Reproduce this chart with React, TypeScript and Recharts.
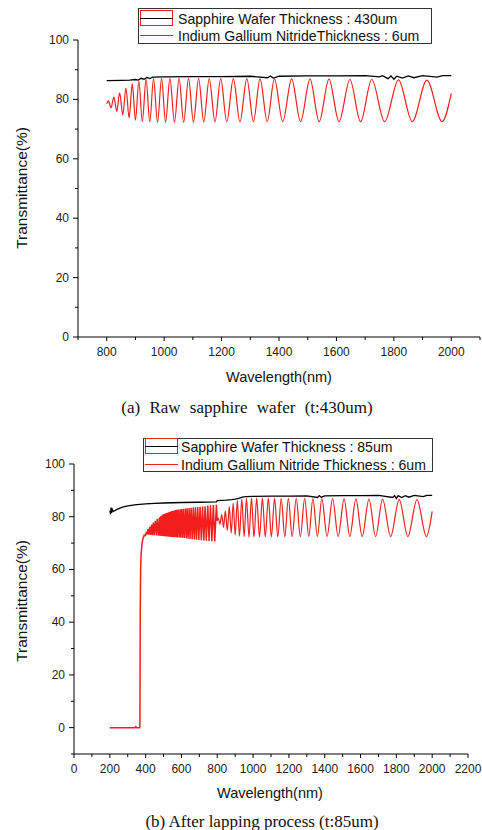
import React from "react";
import { LineChart, Line, XAxis, YAxis } from "recharts";

// thin-film fringes 800-2000 nm (same InGaN layer in both panels)
const fringeNm = [
  800, 806, 815, 825, 835, 845, 856, 867, 878, 889, 900, 912, 924, 937, 950, 963, 977, 991,
  1005, 1020, 1036, 1052, 1068, 1085, 1102, 1120, 1138, 1157, 1177, 1197, 1218, 1241, 1264,
  1288, 1311, 1334, 1359, 1384, 1413, 1444, 1475, 1508, 1540, 1574, 1609, 1647, 1684, 1723,
  1768, 1816, 1864, 1915, 1968, 2000,
];
const fringeT = [
  78.5, 79.5, 77.2, 80.8, 76.0, 82.2, 74.8, 83.8, 73.8, 85.2, 73.0, 86.2, 72.6, 86.8, 72.4, 87.0,
  72.3, 87.1, 72.3, 87.1, 72.3, 87.1, 72.3, 87.1, 72.3, 87.1, 72.4, 87.0, 72.4, 87.0, 72.4, 87.0,
  72.4, 87.0, 72.5, 86.9, 72.5, 86.9, 72.5, 86.9, 72.5, 86.8, 72.5, 86.8, 72.5, 86.7, 72.5, 86.7,
  72.5, 86.6, 72.5, 86.5, 72.5, 82.0,
];

// (a) sapphire 430um
const sapphireANm = [
  800, 850, 880, 900, 910, 920, 930, 940, 950, 960, 1000, 1100, 1200, 1300, 1360, 1370, 1380,
  1400, 1500, 1600, 1700, 1750, 1760, 1780, 1790, 1800, 1810, 1830, 1850, 1870, 1900, 1950,
  1970, 2000,
];
const sapphireAT = [
  86.3, 86.4, 86.5, 86.7, 86.5, 87.1, 86.8, 87.4, 87.0, 87.5, 87.6, 87.7, 87.7, 87.8, 87.3, 87.9,
  87.2, 87.8, 87.9, 87.9, 88.0, 87.6, 88.0, 87.0, 87.9, 86.8, 87.8, 87.2, 87.9, 87.3, 88.0, 87.5,
  88.0, 88.0,
];

// (b) sapphire 85um
const sapphireBNm = [
  200, 204, 207, 210, 214, 220, 240, 270, 300, 350, 400, 450, 500, 600, 700, 795,
  800, 850, 880, 900, 920, 940, 960, 1000, 1100, 1200, 1300, 1360, 1370, 1380, 1400, 1500,
  1600, 1700, 1780, 1790, 1800, 1810, 1830, 1850, 1870, 1900, 1950, 1970, 2000,
];
const sapphireBT = [
  82.3, 81.0, 83.5, 81.5, 82.8, 82.0, 82.8, 83.6, 84.1, 84.6, 84.9, 85.1, 85.2, 85.4, 85.5, 85.6,
  86.1, 86.3, 86.5, 86.7, 87.0, 87.4, 87.6, 87.7, 87.8, 87.8, 87.9, 87.3, 88.0, 87.4, 87.9, 88.0,
  88.0, 88.1, 87.3, 88.0, 86.9, 88.0, 87.3, 88.0, 87.4, 88.1, 87.6, 88.1, 88.1,
];

// (b) InGaN: absorption edge + dense fringes below 800 nm
const edgeNm = [
  200, 340, 345, 350, 366, 368, 369, 370, 372, 375, 380, 386, 392,
  396, 400, 404, 408, 413, 418, 423, 428, 433, 438, 443, 448, 454, 460, 465, 471, 477, 480,
  484, 487, 490, 493, 497, 500, 503, 506, 510, 513, 517, 521, 525, 528, 532, 536, 540, 544,
  548, 552, 556, 560, 565, 569, 573, 577, 582, 587, 592, 596, 601, 606, 611, 616, 622, 627,
  632, 637, 643, 648, 654, 660, 666, 672, 678, 684, 691, 697, 704, 711, 718, 725, 732, 739,
  747, 754, 762, 770, 778, 786, 795, 800,
];
const edgeT = [
  0, 0, 0.4, 0, 0, 0.5, 20, 45, 60, 66, 70, 72, 73,
  72.8, 73.0, 74.2, 73.2, 75.3, 73.2, 76.2, 73.1, 77.0, 73.0, 77.8, 73.0, 78.5, 72.9, 79.2, 72.8,
  79.8, 72.8, 80.2, 72.7, 80.5, 72.7, 80.8, 72.6, 81.0, 72.6, 81.2, 72.5, 81.4, 72.5, 81.6, 72.4,
  81.8, 72.4, 82.0, 72.3, 82.2, 72.3, 82.3, 72.2, 82.5, 72.2, 82.6, 72.1, 82.7, 72.1, 82.8, 72.0,
  82.9, 72.0, 83.0, 71.9, 83.1, 71.8, 83.2, 71.7, 83.3, 71.6, 83.4, 71.5, 83.5, 71.4, 83.6, 71.3,
  83.7, 71.2, 83.8, 71.1, 83.9, 71.0, 84.0, 70.9, 84.2, 70.8, 84.3, 70.7, 84.4, 70.6, 84.5, 78.5,
];

const xTicksA = [700, 800, 900, 1000, 1100, 1200, 1300, 1400, 1500, 1600, 1700, 1800, 1900, 2000, 2100];
const xTicksB = [0, 100, 200, 300, 400, 500, 600, 700, 800, 900, 1000, 1100, 1200, 1300, 1400, 1500, 1600, 1700, 1800, 1900, 2000, 2100, 2200];
const yTicksA = [0, 10, 20, 30, 40, 50, 60, 70, 80, 90, 100];
const yTicksB = [-10, 0, 10, 20, 30, 40, 50, 60, 70, 80, 90, 100];

const legendA = ["Sapphire Wafer Thickness : 430um", "Indium Gallium NitrideThickness : 6um"];
const legendB = ["Sapphire Wafer Thickness : 85um", "Indium Gallium Nitride Thickness : 6um"];

const RED = "#f21d1d";
const SANS = '"Liberation Sans", Arial, sans-serif';
const SERIF = '"Liberation Serif", "Times New Roman", serif';

const zip = (xs: number[], ys: number[]) => xs.map((x, i) => ({ x, y: ys[i] }));

const XTick = ({ x, y, payload }: any) => {
  const major = payload.value % 200 === 0;
  return (
    <g>
      <line x1={x} y1={y} x2={x} y2={y + (major ? 4 : 3)} stroke="#000" />
      {major && (
        <text x={x} y={y + 15} textAnchor="middle" dominantBaseline="central" fontSize={12} fontFamily={SANS} fill="#222">
          {payload.value}
        </text>
      )}
    </g>
  );
};

const YTick = ({ x, y, payload }: any) => {
  const major = payload.value % 20 === 0;
  return (
    <g>
      <line x1={x} y1={y} x2={x - (major ? 5 : 3)} y2={y} stroke="#000" />
      {major && (
        <text x={x - 9} y={y} textAnchor="end" dominantBaseline="central" fontSize={12} fontFamily={SANS} fill="#222">
          {payload.value}
        </text>
      )}
    </g>
  );
};

function LegendBox({ left, top, width, height, rows, labels, textLeft }: any) {
  return (
    <div style={{ position: "absolute", left, top, width, height, border: "1px solid #333", boxSizing: "border-box", background: "#fff" }}>
      <div style={{ position: "absolute", left: 1, top: rows[0] - 9, width: 33, height: 16, border: `1px solid ${RED}`, boxSizing: "border-box" }} />
      <div style={{ position: "absolute", left: 1, top: rows[0] - 1, width: 33, height: 0, borderTop: "1.5px solid #000" }} />
      <div style={{ position: "absolute", left: 1, top: rows[1] - 1, width: 33, height: 0, borderTop: `1.5px solid ${RED}` }} />
      {labels.map((t: string, i: number) => (
        <div key={t} style={{ position: "absolute", left: textLeft, top: rows[i] - 9, fontSize: 14.1, lineHeight: "18px", fontFamily: SANS, color: "#111", whiteSpace: "nowrap" }}>
          {t}
        </div>
      ))}
    </div>
  );
}

const yTitle = (cy: number) => (
  <div style={{ position: "absolute", left: 22, top: cy, transform: "translate(-50%, -50%) rotate(-90deg)", fontSize: 15.5, fontFamily: SANS, color: "#111", whiteSpace: "nowrap" }}>
    Transmittance(%)
  </div>
);

const textAt = (cx: number, cy: number, text: string, font: string, size: number, ws = 0) => (
  <div style={{ position: "absolute", left: cx, top: cy, transform: "translate(-50%, -50%)", fontSize: size, fontFamily: font, color: "#111", whiteSpace: "nowrap", wordSpacing: ws }}>
    {text}
  </div>
);

export default function App() {
  const redA = zip(fringeNm, fringeT);
  const blackA = zip(sapphireANm, sapphireAT);
  const blackB = zip(sapphireBNm, sapphireBT);
  const edgeB = zip(edgeNm, edgeT);

  return (
    <div style={{ position: "absolute", left: 0, top: 0, width: 482, height: 830, background: "#fff", overflow: "hidden" }}>
      {/* (a) */}
      <div style={{ position: "absolute", left: 0, top: 0 }}>
        <LineChart width={482} height={360} margin={{ top: 40, right: 2, bottom: 3, left: 38 }}>
          <XAxis type="number" dataKey="x" domain={[700, 2100]} ticks={xTicksA} interval={0} tickSize={0} tickMargin={0}
            tick={(p: any) => <XTick {...p} />} height={20} axisLine={{ stroke: "#000" }} allowDataOverflow />
          <YAxis type="number" dataKey="y" domain={[0, 100]} ticks={yTicksA} interval={0} tickSize={0} tickMargin={0}
            tick={(p: any) => <YTick {...p} />} width={40} axisLine={{ stroke: "#000" }} allowDataOverflow />
          <Line data={blackA} dataKey="y" type="linear" stroke="#000" strokeWidth={1.3} dot={false} isAnimationActive={false} />
          <Line data={redA} dataKey="y" type="monotone" stroke={RED} strokeWidth={1.2} dot={false} isAnimationActive={false} />
        </LineChart>
      </div>
      <LegendBox left={138} top={8} width={294} height={36} rows={[10, 27]} labels={legendA} textLeft={39} />
      {yTitle(188)}
      {textAt(279, 377, "Wavelength(nm)", SANS, 14.5)}
      {textAt(247, 408, "(a) Raw sapphire wafer (t:430um)", SERIF, 17, 5)}

      {/* (b) */}
      <div style={{ position: "absolute", left: 0, top: 420 }}>
        <LineChart width={482} height={360} margin={{ top: 44, right: 14, bottom: 6, left: 34 }}>
          <XAxis type="number" dataKey="x" domain={[0, 2200]} ticks={xTicksB} interval={0} tickSize={0} tickMargin={0}
            tick={(p: any) => <XTick {...p} />} height={20} axisLine={{ stroke: "#000" }} allowDataOverflow />
          <YAxis type="number" dataKey="y" domain={[-10, 100]} ticks={yTicksB} interval={0} tickSize={0} tickMargin={0}
            tick={(p: any) => <YTick {...p} />} width={40} axisLine={{ stroke: "#000" }} allowDataOverflow />
          <Line data={blackB} dataKey="y" type="linear" stroke="#000" strokeWidth={1.3} dot={false} isAnimationActive={false} />
          <Line data={edgeB} dataKey="y" type="linear" stroke={RED} strokeWidth={1.5} dot={false} isAnimationActive={false} />
          <Line data={redA} dataKey="y" type="monotone" stroke={RED} strokeWidth={1.2} dot={false} isAnimationActive={false} />
        </LineChart>
      </div>
      <LegendBox left={143} top={438} width={290} height={34} rows={[8, 26]} labels={legendB} textLeft={37} />
      {yTitle(601)}
      {textAt(270, 793, "Wavelength(nm)", SANS, 14.5)}
      {textAt(262, 822, "(b) After lapping process (t:85um)", SERIF, 17)}
    </div>
  );
}
